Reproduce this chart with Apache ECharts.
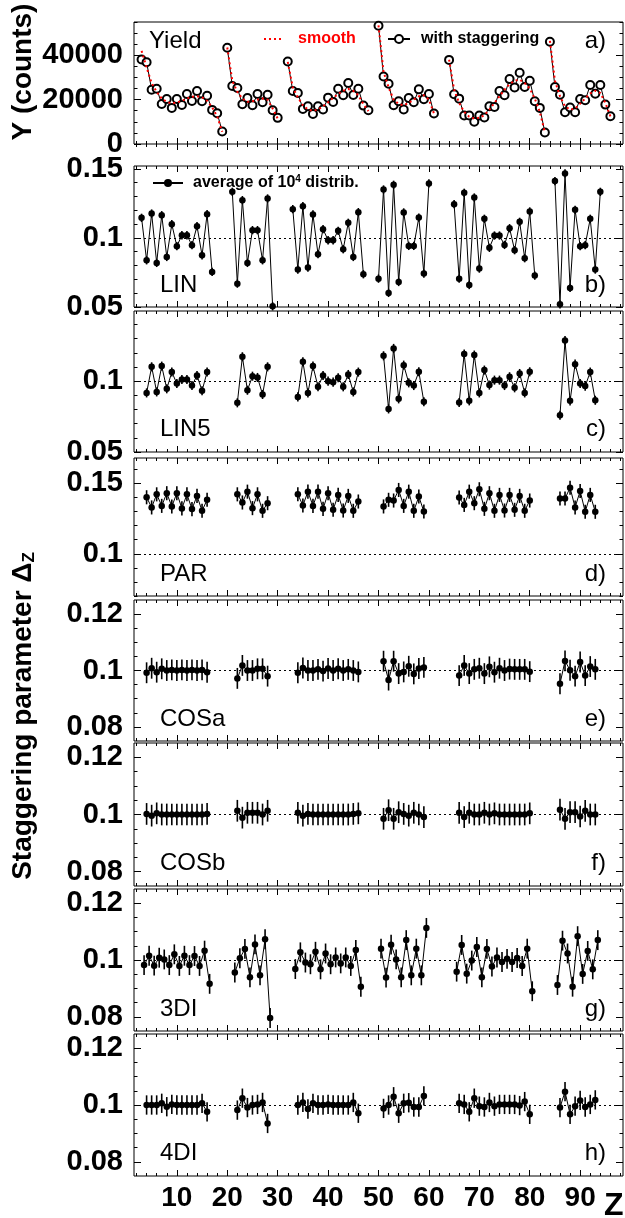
<!DOCTYPE html>
<html>
<head>
<meta charset="utf-8">
<script src="https://cdn.jsdelivr.net/npm/echarts@6/dist/echarts.min.js"></script>
<style>
  html, body { margin: 0; padding: 0; background: #fff; }
  #chart { width: 625px; height: 1218px; }
</style>
</head>
<body>
<div id="chart"></div>
<script>
  // every chain is [first Z, values for Z, Z+1, ...]
  // yield with staggering (panel a)
  const yieldStag = [
    [3, [38060, 36870, 24480, 24930, 18060, 20300, 16270, 20300, 17610, 22540, 19400, 23880, 19250, 21790, 15370, 13880, 5670]],
    [20, [43430, 26120, 25220, 17910, 20750, 17460, 22540, 18810, 22240, 15220, 11790]],
    [32, [37160, 23880, 22990, 15820, 17010, 13580, 17010, 15520, 20900, 18960, 24930, 21940, 27460, 22090, 24930, 17310, 15220]],
    [50, [53280, 30450, 27160, 17460, 19250, 15520, 20750, 18810, 24630, 20150, 22540, 13730]],
    [64, [37910, 22390, 20450, 12840, 12840, 10000, 12840, 11940, 17010, 16720, 23880, 21940, 29250, 25520, 32090, 25670, 28510, 19250, 16270, 5220]],
    [84, [46120, 25670, 22240, 14330, 16420, 14330, 20300, 19700, 26570, 22690, 26570, 17760, 12540]]
  ]
  // smooth yield (red dotted)
  const yieldSmooth = [
    [3, [42000, 34500, 27500, 23500, 20500, 19000, 18300, 18700, 19500, 20500, 21300, 21500, 21000, 19500, 16500, 12500, 5500]],
    [20, [43500, 28500, 23500, 20500, 19000, 19300, 20000, 20500, 20000, 16000, 11500]],
    [32, [37000, 25500, 21000, 17500, 15500, 15000, 15500, 17000, 18800, 20800, 22500, 24000, 24800, 24000, 22000, 18000, 14800]],
    [50, [53500, 32500, 25500, 20000, 18000, 17500, 18500, 20000, 21500, 22000, 20000, 13800]],
    [64, [38000, 24500, 18500, 14500, 12300, 11500, 11800, 13000, 15500, 18500, 21500, 24500, 27000, 28500, 29000, 27500, 25000, 20500, 14500, 5200]],
    [84, [46500, 28500, 21500, 17000, 15500, 16000, 18200, 20500, 22800, 24000, 23000, 18500, 12500]]
  ]

  const lin = [
    [3, [0.1145, 0.0838, 0.1176, 0.0819, 0.1164, 0.0862, 0.1099, 0.0940, 0.1019, 0.1019, 0.0947, 0.1085, 0.0874, 0.1171, 0.0754]],
    [21, [0.1333, 0.0669, 0.1273, 0.0819, 0.1056, 0.1056, 0.0838, 0.1285, 0.0505]],
    [33, [0.1208, 0.0771, 0.1229, 0.0785, 0.1169, 0.0882, 0.1063, 0.0983, 0.0983, 0.1051, 0.0918, 0.1109, 0.0862, 0.1186, 0.0737]],
    [50, [0.0705, 0.1350, 0.0602, 0.1384, 0.0681, 0.1184, 0.0942, 0.0942, 0.1147, 0.0742, 0.1394]],
    [65, [0.1244, 0.0705, 0.1326, 0.0659, 0.1292, 0.0778, 0.1138, 0.0928, 0.1017, 0.1017, 0.0949, 0.1070, 0.0911, 0.1116, 0.0853, 0.1191, 0.0727]],
    [85, [0.1411, 0.0519, 0.1466, 0.0638, 0.1203, 0.0940, 0.0947, 0.1138, 0.0771, 0.1333]]
  ]
  const lin5 = [
    [4, [0.0917, 0.1101, 0.0924, 0.1106, 0.0946, 0.1064, 0.0983, 0.1012, 0.1012, 0.0969, 0.1040, 0.0932, 0.1064]],
    [22, [0.0847, 0.1172, 0.0936, 0.1035, 0.1026, 0.0906, 0.1101]],
    [34, [0.0889, 0.1137, 0.0917, 0.1106, 0.0960, 0.1040, 0.1000, 0.0993, 0.1024, 0.0960, 0.1047, 0.0924, 0.1064]],
    [51, [0.1179, 0.0804, 0.1231, 0.0875, 0.1113, 0.0988, 0.0969, 0.1066, 0.0854]],
    [66, [0.0849, 0.1191, 0.0861, 0.1184, 0.0917, 0.1078, 0.0972, 0.1007, 0.1007, 0.0969, 0.1031, 0.0953, 0.1054, 0.0917, 0.1066]],
    [86, [0.0759, 0.1286, 0.0861, 0.1120, 0.0983, 0.0965, 0.1064, 0.0865]]
  ]
  const par = [
    [4, [0.1401, 0.1329, 0.1422, 0.1340, 0.1430, 0.1336, 0.1430, 0.1322, 0.1422, 0.1317, 0.1411, 0.1305, 0.1383]],
    [22, [0.1422, 0.1364, 0.1441, 0.1324, 0.1422, 0.1305, 0.1359]],
    [34, [0.1422, 0.1343, 0.1441, 0.1340, 0.1441, 0.1319, 0.1430, 0.1312, 0.1418, 0.1307, 0.1411, 0.1305, 0.1371]],
    [51, [0.1336, 0.1383, 0.1378, 0.1453, 0.1340, 0.1441, 0.1305, 0.1406, 0.1300]],
    [66, [0.1399, 0.1347, 0.1441, 0.1359, 0.1458, 0.1319, 0.1430, 0.1305, 0.1418, 0.1307, 0.1418, 0.1312, 0.1411, 0.1305, 0.1378]],
    [86, [0.1392, 0.1392, 0.1469, 0.1329, 0.1446, 0.1298, 0.1418, 0.1298]]
  ]
  const cosA = [
    [4, [0.0992, 0.1008, 0.0994, 0.1006, 0.1000, 0.1002, 0.1000, 0.1002, 0.1000, 0.1002, 0.1000, 0.1002, 0.0994]],
    [22, [0.0972, 0.1018, 0.1000, 0.1000, 0.1006, 0.1006, 0.0980]],
    [34, [0.0992, 0.1009, 0.1000, 0.1000, 0.1004, 0.0998, 0.1007, 0.1000, 0.1006, 0.1000, 0.1004, 0.1000, 0.0995]],
    [51, [0.1033, 0.0966, 0.1033, 0.0989, 0.0995, 0.1015, 0.0988, 0.1007, 0.1011]],
    [66, [0.0982, 0.1018, 0.0989, 0.1004, 0.1008, 0.0989, 0.1013, 0.0994, 0.1008, 0.1000, 0.1005, 0.1004, 0.1004, 0.1004, 0.0996]],
    [86, [0.0953, 0.1034, 0.1001, 0.0980, 0.1030, 0.0982, 0.1014, 0.1004]]
  ]
  const cosB = [
    [4, [0.1002, 0.0996, 0.1004, 0.1000, 0.1000, 0.1000, 0.1000, 0.1000, 0.1000, 0.1000, 0.1000, 0.1000, 0.1002]],
    [22, [0.1013, 0.0989, 0.1006, 0.1006, 0.1006, 0.1000, 0.1013]],
    [34, [0.1006, 0.0996, 0.1002, 0.1000, 0.1000, 0.1000, 0.1000, 0.1000, 0.1000, 0.1000, 0.1000, 0.1002, 0.1004]],
    [51, [0.0985, 0.1015, 0.0985, 0.1008, 0.1002, 0.0996, 0.1006, 0.1000, 0.0991]],
    [66, [0.1006, 0.0991, 0.1006, 0.1000, 0.1000, 0.1006, 0.1000, 0.1004, 0.1000, 0.1000, 0.1000, 0.1000, 0.1000, 0.1000, 0.1004]],
    [86, [0.1017, 0.0985, 0.1008, 0.1008, 0.0993, 0.1013, 0.1000, 0.1000]]
  ]
  // 3DI sits between two Z values
  const di3 = [
    [3.5, [0.0982, 0.1015, 0.0980, 0.1008, 0.1002, 0.0982, 0.1020, 0.0979, 0.1015, 0.0982, 0.1014, 0.0979, 0.1033, 0.0916]],
    [21.5, [0.0956, 0.1006, 0.1039, 0.0939, 0.1055, 0.0946, 0.1073, 0.0796]],
    [33.5, [0.0968, 0.1027, 0.0991, 0.0985, 0.1029, 0.0967, 0.1023, 0.0985, 0.1009, 0.0988, 0.1009, 0.0979, 0.1035, 0.0906]],
    [50.5, [0.1040, 0.0938, 0.1054, 0.1002, 0.0939, 0.1070, 0.0946, 0.1040, 0.0946, 0.1113]],
    [65.5, [0.0959, 0.1053, 0.0952, 0.0998, 0.1046, 0.0939, 0.1039, 0.0977, 0.1009, 0.0993, 0.1004, 0.0993, 0.1007, 0.0979, 0.1040, 0.0890]],
    [85.5, [0.0912, 0.1068, 0.1023, 0.0906, 0.1084, 0.0951, 0.1032, 0.0967, 0.1070]]
  ]
  const di4 = [
    [4, [0.1000, 0.1000, 0.1000, 0.1006, 0.0994, 0.1002, 0.1000, 0.1000, 0.1000, 0.1000, 0.1000, 0.1006, 0.0976]],
    [22, [0.0982, 0.1024, 0.0991, 0.1000, 0.1002, 0.1009, 0.0935]],
    [34, [0.1000, 0.1009, 0.0986, 0.1006, 0.1000, 0.1000, 0.1002, 0.1000, 0.1000, 0.1000, 0.1000, 0.1009, 0.0971]],
    [51, [0.0988, 0.1000, 0.1029, 0.0971, 0.1006, 0.1008, 0.0993, 0.0993, 0.1032]],
    [66, [0.1006, 0.1002, 0.0976, 0.1024, 0.0996, 0.0993, 0.1009, 0.0996, 0.1002, 0.1002, 0.1002, 0.1002, 0.0998, 0.1012, 0.0967]],
    [86, [0.0991, 0.1047, 0.0967, 0.0996, 0.1016, 0.0993, 0.1002, 0.1018]]
  ]
  // half length of the error bars of each panel
  const errors = [0.003, 0.0032, 0.005, 0.0037, 0.0038, 0.0035, 0.0034]

  const panelNames = ['LIN', 'LIN5', 'PAR', 'COSa', 'COSb', '3DI', '4DI']
  const panelTags = ['b)', 'c)', 'd)', 'e)', 'f)', 'g)', 'h)']
  const zTicks = [10, 20, 30, 40, 50, 60, 70, 80, 90]

  const FONT = '"Liberation Sans", Arial, Helvetica, sans-serif'

  const steps = (from, to, step) => {
    const out = []
    const n = Math.round((to - from) / step)
    for (let i = 0; i <= n; i++) out.push(+(from + i * step).toFixed(6))
    return out
  }

  // frame of each pad, in pixels, and its y range
  const pads = [
    { top: 22, height: 122, min: 0, max: 55000, major: [0, 20000, 40000], minor: steps(0, 55000, 5000) },
    { top: 166, height: 141, min: 0.05, max: 0.152, major: [0.05, 0.1, 0.15], minor: steps(0.05, 0.15, 0.01) },
    { top: 311, height: 141, min: 0.05, max: 0.1495, major: [0.05, 0.1], minor: steps(0.05, 0.14, 0.01) },
    { top: 458, height: 138, min: 0.07, max: 0.168, major: [0.1, 0.15], minor: steps(0.07, 0.16, 0.01) },
    { top: 600, height: 141, min: 0.075, max: 0.125, major: [0.08, 0.1, 0.12], minor: steps(0.08, 0.12, 0.005) },
    { top: 743, height: 143, min: 0.075, max: 0.125, major: [0.08, 0.1, 0.12], minor: steps(0.08, 0.12, 0.005) },
    { top: 889, height: 142, min: 0.075, max: 0.125, major: [0.08, 0.1, 0.12], minor: steps(0.08, 0.12, 0.005) },
    { top: 1034, height: 142, min: 0.075, max: 0.125, major: [0.08, 0.1, 0.12], minor: steps(0.08, 0.12, 0.005) }
  ]
  const X_MIN = 1.5
  const X_MAX = 98.5

  /** chains -> [z, value] list, with a gap between chains */
  const chainsToData = (chains) => {
    const out = []
    chains.forEach(([z0, vals], k) => {
      if (k > 0) out.push([z0 - 1, '-'])
      vals.forEach((v, j) => out.push([z0 + j, v]))
    })
    return out
  }

  const grids = []
  const xAxes = []
  const yAxes = []
  const tickStyle = { color: '#000', width: 1 }

  pads.forEach((p, i) => {
    grids.push({
      left: 134, width: 489, top: p.top, height: p.height,
      show: true, borderColor: '#000', borderWidth: 1, backgroundColor: 'transparent'
    })
    const last = i === pads.length - 1
    // x: bottom major, bottom minor, top major, top minor
    ;[['bottom', zTicks, 6], ['bottom', steps(2, 98, 2), 3], ['top', zTicks, 6], ['top', steps(2, 98, 2), 3]].forEach(
      ([pos, vals, len], k) => {
        xAxes.push({
          gridIndex: i, type: 'value', min: X_MIN, max: X_MAX, position: pos,
          axisLine: { show: false }, splitLine: { show: false },
          axisTick: { show: true, inside: true, length: len, customValues: vals, lineStyle: tickStyle },
          axisLabel: {
            show: last && k === 0, customValues: zTicks, margin: 8,
            color: '#000', fontSize: 28, fontWeight: 'bold', fontFamily: FONT
          }
        })
      }
    )
    // y: left major (labels), left minor, right major, right minor
    ;[['left', p.major, 7], ['left', p.minor, 3.5], ['right', p.major, 7], ['right', p.minor, 3.5]].forEach(
      ([pos, vals, len], k) => {
        yAxes.push({
          gridIndex: i, type: 'value', min: p.min, max: p.max, position: pos,
          axisLine: { show: false }, splitLine: { show: false },
          axisTick: { show: true, inside: true, length: len, customValues: vals, lineStyle: tickStyle },
          axisLabel: {
            show: k === 0, customValues: p.major, margin: 11,
            formatter: (v) => String(v),
            color: '#000', fontSize: 29, fontWeight: 'bold', fontFamily: FONT
          }
        })
      }
    )
  })

  const series = [
    {
      name: 'with staggering', type: 'line', xAxisIndex: 0, yAxisIndex: 0,
      data: chainsToData(yieldStag),
      symbol: 'emptyCircle', symbolSize: 8,
      itemStyle: { color: '#000', borderColor: '#000', borderWidth: 1.5 },
      lineStyle: { color: '#000', width: 1 }, z: 3
    },
    {
      name: 'smooth', type: 'line', xAxisIndex: 0, yAxisIndex: 0,
      data: chainsToData(yieldSmooth), symbol: 'none',
      itemStyle: { color: '#ff0000' },
      lineStyle: { color: '#ff0000', width: 2, type: [2, 3] }, z: 4
    }
  ]

  ;[lin, lin5, par, cosA, cosB, di3, di4].forEach((chains, k) => {
    const i = k + 1
    const data = chainsToData(chains)
    const err = errors[k]
    series.push({
      name: k === 0 ? 'average' : 'avg' + i,
      type: 'line', xAxisIndex: 4 * i, yAxisIndex: 4 * i, data,
      symbol: 'circle', symbolSize: 6.5,
      itemStyle: { color: '#000' }, lineStyle: { color: '#000', width: 1 }, z: 3,
      markLine: {
        silent: true, symbol: 'none', label: { show: false },
        lineStyle: { color: '#000', width: 1, type: [2, 3] },
        data: [{ yAxis: 0.1 }], animation: false
      }
    })
    series.push({
      type: 'custom', xAxisIndex: 4 * i, yAxisIndex: 4 * i,
      data: data.filter((d) => d[1] !== '-'),
      renderItem: (params, api) => {
        const x = api.value(0)
        const y = api.value(1)
        const p1 = api.coord([x, y - err])
        const p2 = api.coord([x, y + err])
        return {
          type: 'line',
          shape: { x1: p1[0], y1: p1[1], x2: p2[0], y2: p2[1] },
          style: { stroke: '#000', lineWidth: 1.6 }
        }
      },
      silent: true, z: 2
    })
  })

  const legendBase = {
    orient: 'horizontal', padding: 0, itemHeight: 10, selectedMode: false
  }

  const panelText = (text, x, y, align) => ({
    type: 'text', x, y,
    style: {
      text, fill: '#000', font: '24px ' + FONT,
      textAlign: align, textVerticalAlign: 'middle'
    }
  })
  const labelY = [284.9, 429.3, 573.9, 719.3, 863.3, 1008.9, 1153.3]
  const graphics = [
    panelText('Yield', 149, 41.6, 'left'),
    panelText('a)', 606, 41.6, 'right'),
    {
      type: 'text', x: 23, y: 72, rotation: Math.PI / 2,
      style: {
        text: 'Y (counts)', fill: '#000', font: 'bold 28px ' + FONT,
        textAlign: 'center', textVerticalAlign: 'middle'
      }
    },
    {
      type: 'text', x: 23, y: 716, rotation: Math.PI / 2,
      style: {
        text: '{t|Staggering parameter Δ}{s|Z}', fill: '#000',
        textAlign: 'center', textVerticalAlign: 'middle',
        rich: {
          t: { fontSize: 28, fontWeight: 'bold', fontFamily: FONT, lineHeight: 30 },
          s: { fontSize: 17, fontWeight: 'bold', fontFamily: FONT, lineHeight: 14, verticalAlign: 'bottom' }
        }
      }
    },
    {
      type: 'text', x: 604, y: 1206,
      style: {
        text: 'Z', fill: '#000', font: 'bold 32px ' + FONT,
        textAlign: 'left', textVerticalAlign: 'middle'
      }
    }
  ]
  panelNames.forEach((n, k) => {
    graphics.push(panelText(n, 160, labelY[k], 'left'))
    graphics.push(panelText(panelTags[k], 606, labelY[k], 'right'))
  })

  const chart = echarts.init(document.getElementById('chart'))
  chart.setOption({
    animation: false,
    backgroundColor: '#fff',
    grid: grids,
    xAxis: xAxes,
    yAxis: yAxes,
    legend: [
      {
        ...legendBase, left: 263, top: 31, itemWidth: 20,
        data: [{ name: 'smooth', itemStyle: { opacity: 0 }, textStyle: { color: '#ff0000' } }],
        textStyle: { fontSize: 16, fontWeight: 'bold', fontFamily: FONT, padding: [0, 0, 0, 9] }
      },
      {
        ...legendBase, left: 387, top: 31, itemWidth: 22,
        data: ['with staggering'],
        textStyle: { color: '#000', fontSize: 16, fontWeight: 'bold', fontFamily: FONT, padding: [0, 0, 0, 6] }
      },
      {
        ...legendBase, left: 152, top: 174, itemWidth: 30,
        data: ['average'],
        formatter: () => '{t|average of 10}{s|4}{t| distrib.}',
        textStyle: {
          color: '#000', padding: [0, 0, 0, 5],
          rich: {
            t: { fontSize: 16, fontWeight: 'bold', fontFamily: FONT, lineHeight: 18 },
            s: { fontSize: 10, fontWeight: 'bold', fontFamily: FONT, lineHeight: 10, verticalAlign: 'top' }
          }
        }
      }
    ],
    graphic: graphics,
    series
  })
</script>
</body>
</html>
